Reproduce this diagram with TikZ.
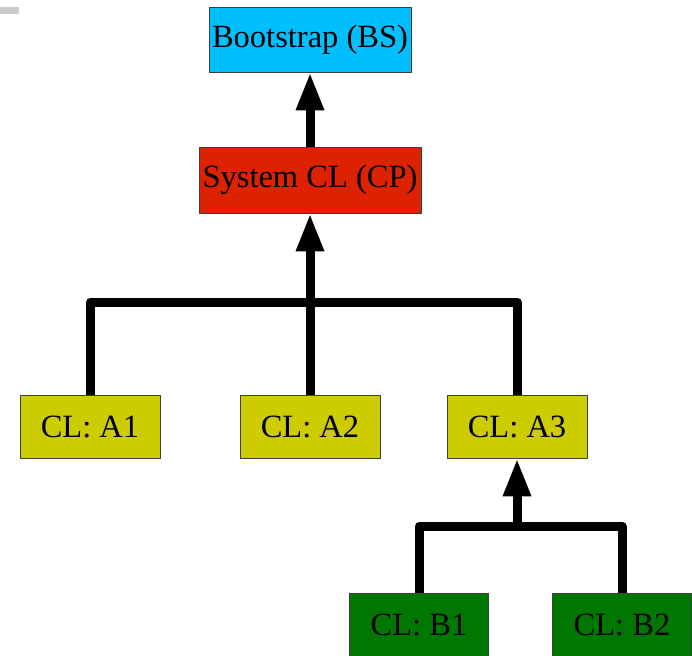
\documentclass[tikz,border=0pt]{standalone}
\usepackage{fontspec}
\setmainfont{Liberation Serif}
\usetikzlibrary{arrows.meta}
\definecolor{bscol}{HTML}{00BFFF}
\definecolor{cpcol}{HTML}{DD2200}
\definecolor{acol}{HTML}{CCCC00}
\definecolor{bcol}{HTML}{007700}
\tikzset{
  box/.style={draw=black!75, line width=0.8pt, inner sep=0pt, font=\fontsize{32.5}{38}\selectfont},
  bsbox/.style={box, fill=bscol, minimum width=202pt, minimum height=65pt},
  cpbox/.style={box, fill=cpcol, minimum width=222pt, minimum height=66pt},
  abox/.style={box, fill=acol, minimum width=140pt, minimum height=63pt},
  bbox/.style={box, fill=bcol, minimum width=139pt, minimum height=64pt},
  conn/.style={line width=9pt, line join=round, black},
  arr/.style={conn, -{Triangle[length=38pt,width=26pt]}}
}
\begin{document}
\begin{tikzpicture}[x=1pt,y=-1pt]
\useasboundingbox (0,0) rectangle (692,655);
\fill[black!20] (0,7) rectangle (19,14);
\node[bsbox] (BS) at (310,39.5) {Bootstrap (BS)};
\node[cpbox] (CP) at (310,180) {System CL (CP)};
\node[abox] (A1) at (90,426.5) {CL: A1};
\node[abox] (A2) at (310,426.5) {CL: A2};
\node[abox] (A3) at (517,426.5) {CL: A3};
\node[bbox] (B1) at (419,625) {CL: B1};
\node[bbox] (B2) at (622,625) {CL: B2};
\coordinate (j1) at (310,302);
\coordinate (j2) at (517,526);
\draw[arr] (CP.north) -- (BS.south);
\draw[conn] (A1.north) |- (j1) -| (A3.north);
\draw[conn] (A2.north) -- (j1);
\draw[arr] (j1) -- (CP.south);
\draw[conn] (B1.north) |- (j2) -| (B2.north);
\draw[arr] (j2) -- (A3.south);
\end{tikzpicture}
\end{document}
